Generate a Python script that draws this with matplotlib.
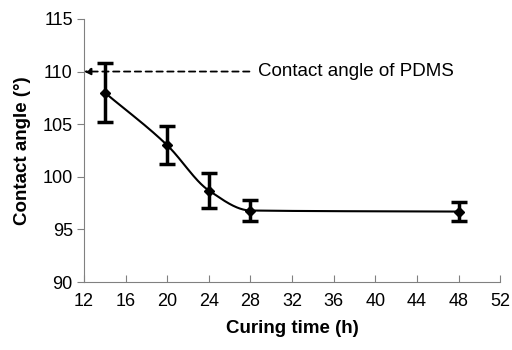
import numpy as np
import matplotlib
matplotlib.use("Agg")
import matplotlib.pyplot as plt

plt.rcParams['font.family'] = ['Liberation Sans', 'DejaVu Sans']

curing_time = [14, 20, 24, 28, 48]
contact_angle = [108.0, 103.0, 98.7, 96.8, 96.7]
angle_err = [2.8, 1.8, 1.7, 1.0, 0.9]
pdms_angle = 110
x_ticks = [12, 16, 20, 24, 28, 32, 36, 40, 44, 48, 52]
y_ticks = [90, 95, 100, 105, 110, 115]

fig = plt.figure(figsize=(5.12, 3.5), dpi=100)
ax = fig.add_axes([0.164, 0.194, 0.813, 0.752])

# Smoothed line: monotone cubic (Fritsch-Carlson) through the data points
x = np.asarray(curing_time, float)
y = np.asarray(contact_angle, float)
h = np.diff(x)
delta = np.diff(y) / h
m = np.zeros_like(x)
m[0], m[-1] = delta[0], delta[-1]
for k in range(1, len(x) - 1):
    if delta[k - 1] * delta[k] > 0:
        w1 = 2 * h[k] + h[k - 1]
        w2 = h[k] + 2 * h[k - 1]
        m[k] = (w1 + w2) / (w1 / delta[k - 1] + w2 / delta[k])
xs, ys = [], []
for k in range(len(x) - 1):
    t = np.linspace(0, 1, 80)
    h00 = 2 * t**3 - 3 * t**2 + 1
    h10 = t**3 - 2 * t**2 + t
    h01 = -2 * t**3 + 3 * t**2
    h11 = t**3 - t**2
    xs.extend(x[k] + t * h[k])
    ys.extend(h00 * y[k] + h10 * h[k] * m[k] + h01 * y[k + 1] + h11 * h[k] * m[k + 1])
ax.plot(xs, ys, color='black', lw=1.5, zorder=3)

ax.errorbar(curing_time, contact_angle, yerr=angle_err, fmt='D', color='black',
            ms=5, elinewidth=2.5, capsize=6, capthick=2.5, zorder=4)

ax.annotate('', xy=(12, pdms_angle), xytext=(27.9, pdms_angle),
            arrowprops=dict(arrowstyle='-|>', linestyle=(0, (3.5, 2.5)), color='black',
                            lw=1.3, shrinkA=0, shrinkB=0, mutation_scale=10))
ax.text(28.7, pdms_angle, 'Contact angle of PDMS', fontsize=13.5, va='center', ha='left')

ax.set_xlim(12, 52)
ax.set_ylim(90, 115)
ax.set_xticks(x_ticks)
ax.set_yticks(y_ticks)
ax.tick_params(axis='x', direction='in', length=5, labelsize=13, color='#808080', pad=8)
ax.tick_params(axis='y', direction='out', length=5, labelsize=13, color='#808080', pad=3)
for s in ['top', 'right']:
    ax.spines[s].set_visible(False)
for s in ['left', 'bottom']:
    ax.spines[s].set_color('#808080')
ax.set_xlabel('Curing time (h)', fontsize=13.5, fontweight='bold', labelpad=7)
ax.set_ylabel('Contact angle (°)', fontsize=13.5, fontweight='bold', labelpad=8)

fig.savefig('out.png', dpi=100)
